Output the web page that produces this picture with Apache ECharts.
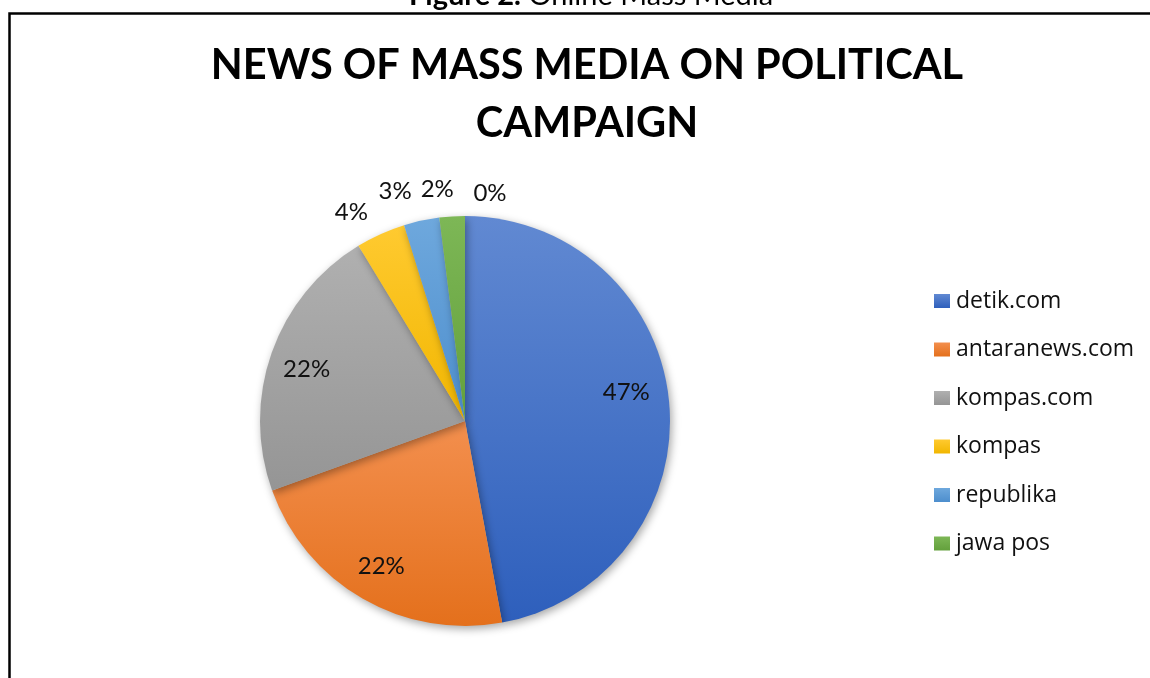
<!DOCTYPE html>
<html>
<head>
<meta charset="utf-8">
<script src="https://cdn.jsdelivr.net/npm/echarts@6/dist/echarts.min.js"></script>
<style>
html,body{margin:0;padding:0;background:#fff;}
#chart{width:1150px;height:678px;}
</style>
</head>
<body>
<div id="chart"></div>
<script>
// ---- data ----
const categories = ['detik.com', 'antaranews.com', 'kompas.com', 'kompas', 'republika', 'jawa pos', ''];
const values = [47.1, 22.4, 21.8, 3.9, 2.8, 2.0, 0];
const legendNames = ['detik.com', 'antaranews.com', 'kompas.com', 'kompas', 'republika', 'jawa pos'];
const titleText = 'NEWS OF MASS MEDIA ON POLITICAL\nCAMPAIGN';
const captionBold = 'Figure 2.';
const captionText = 'Online Mass Media';

// ---- styles ----
const FONT = 'Lato, "Open Sans", sans-serif';
const LEGEND_FONT = '"Open Sans", Lato, sans-serif';
const gradients = [
  ['#6189d2', '#2e5fbc'],
  ['#f38f4e', '#e4701c'],
  ['#b0b0b0', '#959595'],
  ['#ffca30', '#f1b600'],
  ['#6ea8dd', '#4d8ecd'],
  ['#7db756', '#63a03c'],
  ['#7db756', '#63a03c']
];
function grad(i) {
  return new echarts.graphic.LinearGradient(0, 0, 0, 1, [
    { offset: 0, color: gradients[i][0] },
    { offset: 1, color: gradients[i][1] }
  ]);
}
const innerLabelIdx = [0, 1, 2];
const labelOffsets = {0: [-6, -13], 2: [0, 4], 3: [-17, 5], 4: [-20, 0], 5: [-13, 3], 6: [25, 7]};
const pct = p => Math.round(p.percent) + '%';
const labelStyle = { fontFamily: FONT, fontSize: 24, color: '#111' };

const center = [465, 421];
const R = 205;

const mainData = categories.map((c, i) => ({
  name: c, value: values[i],
  itemStyle: { color: grad(i) }
}));
const innerLabelData = categories.map((c, i) => ({
  name: c, value: values[i],
  label: { show: innerLabelIdx.includes(i), offset: labelOffsets[i] || [0, 0] }
}));
const outerLabelData = categories.map((c, i) => ({
  name: c, value: values[i],
  label: { show: !innerLabelIdx.includes(i), offset: labelOffsets[i] || [0, 0] }
}));

const chart = echarts.init(document.getElementById('chart'), null, { renderer: 'canvas' });
chart.setOption({
  animation: false,
  backgroundColor: '#fff',
  color: gradients.map(g => g[0]),
  graphic: [
    {
      type: 'rect', silent: true, z: -1,
      shape: { x: 9.5, y: 13.5, width: 1160, height: 700 },
      style: { fill: 'none', stroke: '#000', lineWidth: 2.5 }
    },
    {
      type: 'text', silent: true, x: 587, y: 37,
      style: {
        text: titleText, align: 'center', verticalAlign: 'top',
        fontFamily: FONT, fontWeight: 'bold', fontSize: 41.5, lineHeight: 58, fill: '#000'
      }
    },
    {
      type: 'text', silent: true, x: 591, y: -20,
      style: {
        text: '{b|' + captionBold + '} {n|' + captionText + '}',
        align: 'center', verticalAlign: 'top',
        fontFamily: FONT, fontSize: 29, lineHeight: 32, fill: '#000',
        rich: {
          b: { fontFamily: FONT, fontWeight: 'bold', fontSize: 29, lineHeight: 32, fill: '#000' },
          n: { fontFamily: FONT, fontWeight: 'normal', fontSize: 29, lineHeight: 32, fill: '#000' }
        }
      }
    }
  ],
  legend: {
    orient: 'vertical',
    left: 934,
    top: 289,
    padding: 0,
    data: legendNames,
    icon: 'rect',
    itemWidth: 16,
    itemHeight: 14,
    itemGap: 24.5,
    textStyle: { fontFamily: LEGEND_FONT, fontSize: 23, lineHeight: 24, color: '#111', padding: [0, 0, 0, 1] },
    selectedMode: false
  },
  series: [
    {
      type: 'pie',
      center: center,
      radius: [0, R],
      startAngle: 90,
      clockwise: true,
      avoidLabelOverlap: false,
      label: { show: false },
      labelLine: { show: false },
      itemStyle: {
        shadowBlur: 8, shadowOffsetX: 2, shadowOffsetY: 3, shadowColor: 'rgba(0,0,0,0.35)'
      },
      emphasis: { disabled: true },
      data: mainData
    },
    {
      type: 'pie',
      center: center,
      radius: [125, R],
      startAngle: 90,
      silent: true,
      avoidLabelOverlap: false,
      itemStyle: { color: 'rgba(0,0,0,0)' },
      label: Object.assign({ position: 'inside', formatter: pct }, labelStyle),
      labelLine: { show: false },
      emphasis: { disabled: true },
      data: innerLabelData
    },
    {
      type: 'pie',
      center: center,
      radius: [218, 246],
      startAngle: 90,
      silent: true,
      avoidLabelOverlap: false,
      itemStyle: { color: 'rgba(0,0,0,0)' },
      label: Object.assign({ position: 'inside', formatter: pct }, labelStyle),
      labelLine: { show: false },
      emphasis: { disabled: true },
      data: outerLabelData
    }
  ]
});
</script>
</body>
</html>
